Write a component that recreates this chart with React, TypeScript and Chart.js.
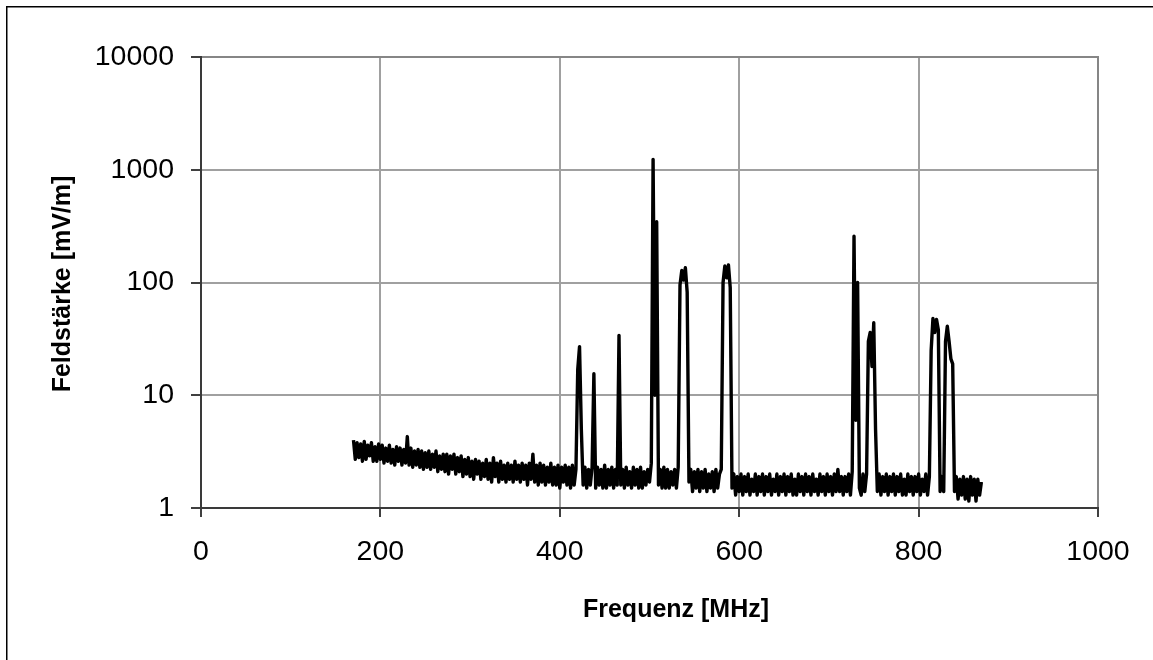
import React, { useEffect, useRef } from "react";
import { Chart, registerables } from "chart.js";

Chart.register(...registerables);

const xTickValues = [0, 200, 400, 600, 800, 1000];
const yTickValues = [1, 10, 100, 1000, 10000];
const xAxisTitle = "Frequenz [MHz]";
const yAxisTitle = "Feldstärke [mV/m]";

// Sweep frequencies in MHz
const frequencyMHz = [
  170, 172, 174, 176, 178, 180, 182, 184, 186, 188, 190, 192, 194, 196, 198, 200, 202, 204, 206, 208, 210, 212, 214, 216, 218,
  220, 222, 224, 226, 228, 230, 232, 234, 236, 238, 240, 242, 244, 246, 248, 250, 252, 254, 256, 258, 260, 262, 264, 266, 268,
  270, 272, 274, 276, 278, 280, 282, 284, 286, 288, 290, 292, 294, 296, 298, 300, 302, 304, 306, 308, 310, 312, 314, 316, 318,
  320, 322, 324, 326, 328, 330, 332, 334, 336, 338, 340, 342, 344, 346, 348, 350, 352, 354, 356, 358, 360, 362, 364, 366, 368,
  370, 372, 374, 376, 378, 380, 382, 384, 386, 388, 390, 392, 394, 396, 398, 400, 402, 404, 406, 408, 410, 412, 414, 416, 418,
  420, 422, 424, 426, 428, 430, 432, 434, 436, 438, 440, 442, 444, 446, 448, 450, 452, 454, 456, 458, 460, 462, 464, 466, 468,
  470, 472, 474, 476, 478, 480, 482, 484, 486, 488, 490, 492, 494, 496, 498, 500, 502, 504, 506, 508, 510, 512, 514, 516, 518,
  520, 522, 524, 526, 528, 530, 532, 534, 536, 538, 540, 542, 544, 546, 548, 550, 552, 554, 556, 558, 560, 562, 564, 566, 568,
  570, 572, 574, 576, 578, 580, 582, 584, 586, 588, 590, 592, 594, 596, 598, 600, 602, 604, 606, 608, 610, 612, 614, 616, 618,
  620, 622, 624, 626, 628, 630, 632, 634, 636, 638, 640, 642, 644, 646, 648, 650, 652, 654, 656, 658, 660, 662, 664, 666, 668,
  670, 672, 674, 676, 678, 680, 682, 684, 686, 688, 690, 692, 694, 696, 698, 700, 702, 704, 706, 708, 710, 712, 714, 716, 718,
  720, 722, 724, 726, 728, 730, 732, 734, 736, 738, 740, 742, 744, 746, 748, 750, 752, 754, 756, 758, 760, 762, 764, 766, 768,
  770, 772, 774, 776, 778, 780, 782, 784, 786, 788, 790, 792, 794, 796, 798, 800, 802, 804, 806, 808, 810, 812, 814, 816, 818,
  820, 822, 824, 826, 828, 830, 832, 834, 836, 838, 840, 842, 844, 846, 848, 850, 852, 854, 856, 858, 860, 862, 864, 866, 868,
  870,
];

// Field strength in mV/m
const fieldStrength = [
  4.0, 2.7, 3.8, 2.8, 3.7, 2.6, 3.9, 2.7, 3.6, 2.9, 3.8, 2.6, 3.5, 2.6, 3.7, 2.7, 3.6, 2.5, 3.4, 2.6, 3.6, 2.5, 3.3, 2.4, 3.5,
  2.6, 3.4, 2.4, 3.3, 2.5, 4.3, 2.4, 3.4, 2.3, 3.2, 2.4, 3.3, 2.3, 3.2, 2.2, 3.1, 2.3, 3.2, 2.2, 3.0, 2.3, 3.2, 2.1, 2.9, 2.2,
  3.0, 2.1, 3.0, 2.0, 2.9, 2.2, 3.0, 2.0, 2.8, 2.1, 2.9, 1.9, 2.7, 2.0, 2.8, 1.9, 2.6, 1.8, 2.7, 2.0, 2.6, 1.8, 2.5, 1.9, 2.7,
  1.8, 2.5, 1.7, 2.8, 1.9, 2.5, 1.7, 2.6, 1.8, 2.4, 1.7, 2.5, 1.8, 2.4, 1.7, 2.6, 1.8, 2.4, 1.7, 2.5, 1.8, 2.4, 1.6, 2.5, 1.8,
  3.0, 1.7, 2.4, 1.6, 2.5, 1.7, 2.4, 1.6, 2.3, 1.7, 2.5, 1.6, 2.3, 1.6, 2.4, 1.5, 2.3, 1.7, 2.4, 1.6, 2.3, 1.5, 2.4, 1.6, 2.2,
  17, 27, 5, 1.6, 2.3, 1.5, 2.2, 1.6, 2.3, 15.5, 1.5, 2.3, 1.6, 2.2, 1.5, 2.4, 1.5, 2.2, 1.6, 2.3, 1.5, 2.2, 1.6, 34, 1.6,
  2.2, 1.5, 2.3, 1.6, 2.1, 1.5, 2.3, 1.6, 2.2, 1.5, 2.3, 1.5, 2.1, 1.6, 2.2, 1.7, 2.5, 1236, 10, 346, 1.6, 2.2, 1.5, 2.3, 1.5,
  2.2, 1.5, 2.1, 1.6, 2.2, 1.5, 2.3, 95, 128, 105, 135, 82, 1.7, 2.2, 1.4, 2.1, 1.5, 2.2, 1.4, 2.1, 1.5, 2.2, 1.4, 2.0, 1.5,
  2.1, 1.4, 2.2, 1.5, 2.0, 2.2, 100, 140, 110, 143, 90, 1.5, 2.0, 1.3, 1.9, 1.4, 2.0, 1.3, 1.9, 1.4, 2.0, 1.3, 1.8, 1.4, 2.0,
  1.3, 1.9, 1.4, 2.0, 1.3, 1.9, 1.4, 2.0, 1.3, 1.8, 1.4, 2.0, 1.3, 1.9, 1.4, 2.0, 1.3, 1.9, 1.4, 2.0, 1.3, 1.8, 1.3, 2.0, 1.4,
  1.9, 1.3, 2.0, 1.4, 1.9, 1.3, 2.0, 1.4, 1.8, 1.3, 2.0, 1.4, 1.9, 1.3, 2.0, 1.4, 1.9, 1.3, 2.0, 1.4, 2.2, 1.4, 1.9, 1.3, 1.9,
  1.4, 2.0, 1.3, 2.1, 257, 6, 100, 1.5, 1.3, 2.0, 1.4, 2.0, 30, 36, 18, 44, 5, 1.4, 2.0, 1.3, 1.9, 1.4, 2.0, 1.3, 1.9,
  1.4, 2.0, 1.3, 1.9, 1.4, 2.0, 1.3, 1.8, 1.3, 2.0, 1.4, 1.9, 1.3, 1.9, 1.4, 2.0, 1.3, 1.8, 1.4, 2.0, 1.3, 1.9, 25, 48, 36,
  47, 38, 1.4, 1.9, 1.4, 30, 41, 30, 21, 19, 1.4, 1.9, 1.2, 1.8, 1.3, 1.9, 1.2, 1.8, 1.15, 1.9, 1.3, 1.8, 1.15, 1.8, 1.3,
  1.7,
];

const FONT = '"Liberation Sans", Arial, Helvetica, sans-serif';

export default function App() {
  const canvasRef = useRef<HTMLCanvasElement | null>(null);

  useEffect(() => {
    const canvas = canvasRef.current;
    if (!canvas) return;

    const points = frequencyMHz.map((f, i) => ({ x: f, y: fieldStrength[i] }));

    const decorPlugin = {
      id: "decor",
      beforeDraw(chart: any) {
        const ctx = chart.ctx;
        ctx.save();
        ctx.fillStyle = "#ffffff";
        ctx.fillRect(0, 0, chart.width, chart.height);
        ctx.fillStyle = "#000000";
        ctx.fillRect(6, 6, chart.width - 6, 1.5);
        ctx.fillRect(6, 6, 1.5, chart.height - 6);
        ctx.restore();
      },
      beforeDatasetsDraw(chart: any) {
        const { ctx, chartArea: a } = chart;
        ctx.save();
        ctx.lineWidth = 2;
        ctx.strokeStyle = "#868686";
        ctx.beginPath();
        ctx.moveTo(a.left, a.top);
        ctx.lineTo(a.right, a.top);
        ctx.lineTo(a.right, a.bottom);
        ctx.stroke();
        ctx.strokeStyle = "#3a3a3a";
        ctx.beginPath();
        ctx.moveTo(a.left, a.top - 1);
        ctx.lineTo(a.left, a.bottom);
        ctx.lineTo(a.right + 1, a.bottom);
        ctx.stroke();
        ctx.restore();
      },
      afterDraw(chart: any) {
        const ctx = chart.ctx;
        ctx.save();
        ctx.fillStyle = "#000000";
        ctx.font = `bold 25px ${FONT}`;
        ctx.textAlign = "center";
        ctx.textBaseline = "alphabetic";
        ctx.fillText(xAxisTitle, 676, 617);
        ctx.translate(69.5, 284);
        ctx.rotate(-Math.PI / 2);
        ctx.fillText(yAxisTitle, 0, 0);
        ctx.restore();
      },
    };

    const chart = new Chart(canvas, {
      type: "line",
      data: {
        datasets: [
          {
            label: "Feldstärke",
            data: points,
            borderColor: "#000000",
            borderWidth: 3.4,
            borderJoinStyle: "round",
            pointRadius: 0,
            tension: 0,
            fill: false,
          },
        ],
      },
      options: {
        animation: false,
        responsive: false,
        devicePixelRatio: 1,
        layout: { padding: { left: 0, top: 57, right: 55, bottom: 0 } },
        plugins: {
          legend: { display: false },
          tooltip: { enabled: false },
          title: { display: false },
        },
        scales: {
          x: {
            type: "linear",
            min: 0,
            max: 1000,
            afterBuildTicks: (scale: any) => {
              scale.ticks = xTickValues.map((v) => ({ value: v }));
            },
            afterFit: (scale: any) => {
              scale.height = 152;
            },
            grid: {
              color: "#a0a0a0",
              lineWidth: 2,
              tickColor: "#000000",
              tickLength: 9,
              tickWidth: 1.5,
            },
            border: { display: false },
            ticks: {
              autoSkip: false,
              maxRotation: 0,
              padding: 18,
              color: "#000000",
              font: { family: FONT, size: 28.5 },
              callback: (v: any) => String(v),
            },
          },
          y: {
            type: "logarithmic",
            min: 1,
            max: 10000,
            afterBuildTicks: (scale: any) => {
              scale.ticks = yTickValues.map((v) => ({ value: v }));
            },
            afterFit: (scale: any) => {
              scale.width = 201;
            },
            grid: {
              color: "#a0a0a0",
              lineWidth: 2,
              tickColor: "#000000",
              tickLength: 10,
              tickWidth: 1.5,
            },
            border: { display: false },
            ticks: {
              autoSkip: false,
              padding: 17,
              color: "#000000",
              font: { family: FONT, size: 28.5 },
              callback: (v: any) => String(v),
            },
          },
        },
      },
      plugins: [decorPlugin],
    });

    return () => {
      chart.destroy();
    };
  }, []);

  return (
    <div
      style={{
        position: "fixed",
        left: 0,
        top: 0,
        width: 1153,
        height: 660,
        background: "#ffffff",
      }}
    >
      <canvas
        ref={canvasRef}
        width={1153}
        height={660}
        style={{ display: "block", width: 1153, height: 660 }}
      />
    </div>
  );
}
